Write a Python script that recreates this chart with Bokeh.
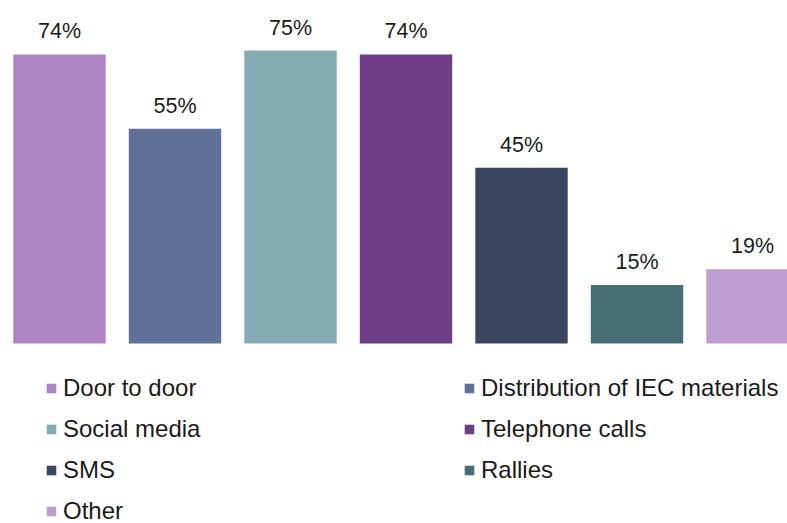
from bokeh.plotting import figure
from bokeh.models import ColumnDataSource, Range1d, LabelSet
from bokeh.core.properties import value
from bokeh.embed import file_html
from bokeh.resources import INLINE

categories = ["Door to door", "Distribution of IEC materials", "Social media",
              "Telephone calls", "SMS", "Rallies", "Other"]
values = [74, 55, 75, 74, 45, 15, 19]
colors = ["#AE83C4", "#5E7299", "#85ACB5", "#6E3F87", "#3A465D", "#486D75", "#BE9DD0"]

W, H = 787, 523
src = ColumnDataSource(dict(
    x=list(range(len(categories))),
    top=values,
    cat=categories,
    color=colors,
    label=[f"{v}%" for v in values],
))

p = figure(width=W, height=H, output_backend="svg", toolbar_location=None,
           x_range=Range1d(-0.5108, 6.303), y_range=Range1d(-46.07, 87.8),
           min_border=0, outline_line_color=None)
p.axis.visible = False
p.grid.visible = False
p.background_fill_color = "white"
p.border_fill_color = "white"

r = p.vbar(x="x", top="top", bottom=0, width=0.8, color="color", source=src,
           line_color=None, legend_field="cat")

labels = LabelSet(x="x", y="top", text="label", source=src, y_offset=16,
                  text_align="center", text_baseline="alphabetic",
                  text_font=value("Liberation Sans"), text_font_size=value("21.5px"),
                  text_color=value("#1a1a1a"))
p.add_layout(labels)

leg = p.legend[0]
leg.orientation = "horizontal"
leg.ncols = 2
leg.location = (45, -2)
leg.padding = 0
leg.margin = 0
leg.spacing = 13
leg.glyph_width = 12
leg.glyph_height = 12
leg.label_standoff = 6
leg.label_width = 387
leg.label_height = 28
leg.label_text_font = "Liberation Sans"
leg.label_text_font_size = "24px"
leg.label_text_color = "#1a1a1a"
leg.label_text_baseline = "middle"
leg.border_line_color = None
leg.background_fill_alpha = 0

open("out.html", "w").write(file_html(p, INLINE))
